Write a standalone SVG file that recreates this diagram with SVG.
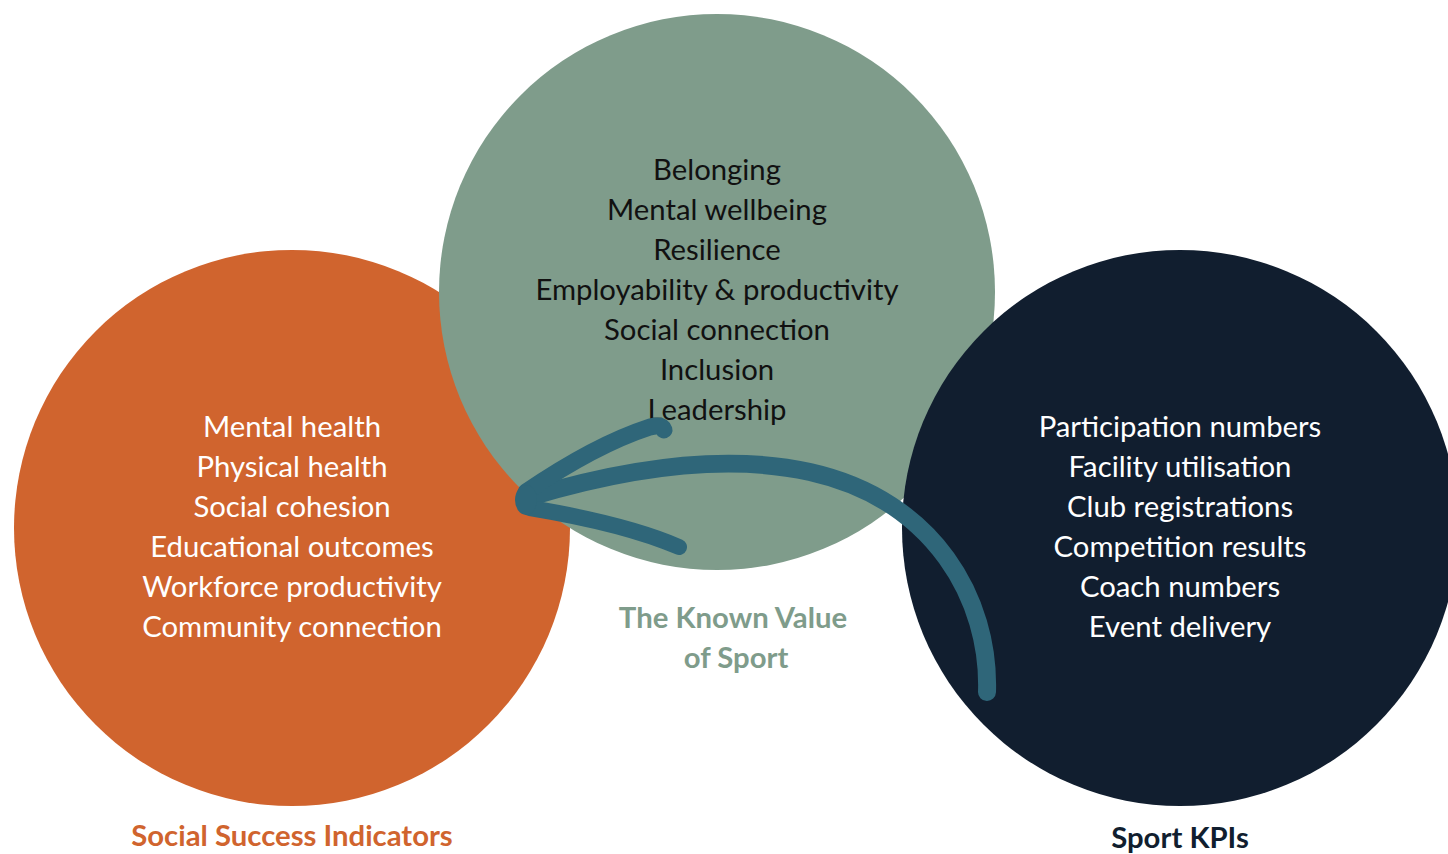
<svg xmlns="http://www.w3.org/2000/svg" width="1448" height="854" viewBox="0 0 1448 854">
  <style>
    .item { font-family: Lato, "Open Sans", "Liberation Sans", sans-serif; font-size: 29.3px; text-anchor: middle; }
    .dark { fill: #111111; }
    .light { fill: #ffffff; }
    .title { font-family: Lato, "Open Sans", "Liberation Sans", sans-serif; font-size: 29.3px; font-weight: bold; text-anchor: middle; }
    .stroke { fill: none; stroke: #2f6679; stroke-linecap: round; stroke-linejoin: round; }
  </style>
  <rect width="1448" height="854" fill="#ffffff"/>

  <!-- Social success indicators -->
  <g id="social">
    <circle cx="292" cy="528" r="278" fill="#d0642e"/>
  </g>

  <!-- Known value of sport (overlaps the social circle) -->
  <g id="known-value">
    <circle cx="717" cy="292" r="278" fill="#7f9c8b"/>
    <text class="item dark" x="717" y="180">Belonging</text>
    <text class="item dark" x="717" y="220">Mental wellbeing</text>
    <text class="item dark" x="717" y="260">Resilience</text>
    <text class="item dark" x="717" y="300">Employability &amp; productivity</text>
    <text class="item dark" x="717" y="340">Social connection</text>
    <text class="item dark" x="717" y="380">Inclusion</text>
    <text class="item dark" x="717" y="420">Leadership</text>
    <text class="title" x="733" y="628" fill="#7f9c8b">The Known Value</text>
    <text class="title" x="736" y="668" fill="#7f9c8b">of Sport</text>
  </g>

  <g id="social-text">
    <text class="item light" x="292" y="437">Mental health</text>
    <text class="item light" x="292" y="477">Physical health</text>
    <text class="item light" x="292" y="517">Social cohesion</text>
    <text class="item light" x="292" y="557">Educational outcomes</text>
    <text class="item light" x="292" y="597">Workforce productivity</text>
    <text class="item light" x="292" y="637">Community connection</text>
    <text class="title" x="292" y="846" fill="#d0642e">Social Success Indicators</text>
  </g>

  <!-- Sport KPIs -->
  <g id="kpis">
    <circle cx="1180" cy="528" r="278" fill="#111e2f"/>
    <text class="item light" x="1180" y="437">Participation numbers</text>
    <text class="item light" x="1180" y="477">Facility utilisation</text>
    <text class="item light" x="1180" y="517">Club registrations</text>
    <text class="item light" x="1180" y="557">Competition results</text>
    <text class="item light" x="1180" y="597">Coach numbers</text>
    <text class="item light" x="1180" y="637">Event delivery</text>
    <text class="title" x="1180" y="848" fill="#111e2f">Sport KPIs</text>
  </g>

  <!-- Hand-drawn arrow from KPIs back to social indicators -->
  <g id="connectors">
    <path class="stroke" stroke-width="18" d="M 987 692 C 990 600 935 500 810 472 C 720 452 620 470 530 497"/>
    <path class="stroke" stroke-width="17" d="M 526 492 C 570 462 610 440 650 427 Q 662 424 664 430"/>
    <path class="stroke" stroke-width="16" d="M 530 508 C 590 518 640 530 679 547"/>
    <ellipse cx="526" cy="500" rx="11" ry="15" fill="#2f6679"/>
  </g>
</svg>
